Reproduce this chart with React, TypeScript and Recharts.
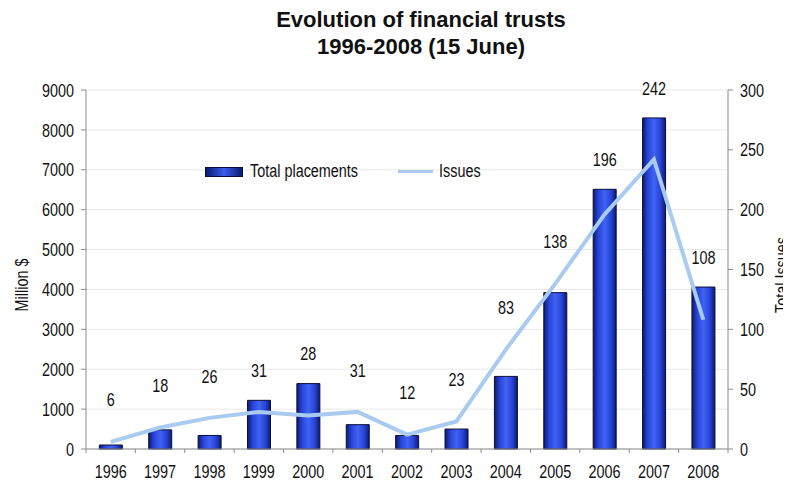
import {
  ComposedChart,
  Bar,
  Line,
  XAxis,
  YAxis,
  CartesianGrid,
  Legend,
  LabelList,
} from "recharts";

const years = ["1996", "1997", "1998", "1999", "2000", "2001", "2002", "2003", "2004", "2005", "2006", "2007", "2008"];
const placements = [100, 480, 340, 1220, 1640, 610, 340, 500, 1820, 3920, 6510, 8300, 4060];
const issues = [6, 18, 26, 31, 28, 31, 12, 23, 83, 138, 196, 242, 108];
const leftTicks = [0, 1000, 2000, 3000, 4000, 5000, 6000, 7000, 8000, 9000];
const rightTicks = [0, 50, 100, 150, 200, 250, 300];

const data = years.map((year, i) => ({ year, placements: placements[i], issues: issues[i] }));

const FONT = "'Liberation Sans', Arial, sans-serif";
const SQUEEZE = 0.8; // fake a condensed face
const AXIS = "#8c8c8c";
const LINE = "#a9cbef";
const BAND = 642 / years.length;

const Narrow = ({ x, y, anchor = "middle", children }: any) => (
  <text
    transform={`translate(${x},${y}) scale(${SQUEEZE},1)`}
    textAnchor={anchor}
    dominantBaseline="central"
    fontFamily={FONT}
    fontSize={18}
    fill="#111"
  >
    {children}
  </text>
);

// label sits above whichever is higher: the issues point or the bar top
const IssueLabel = (props: any) => {
  const { x, y, width, height, index } = props;
  const d = data[index];
  if (!d) return null;
  const bottom = y + height;
  const plotH = (height * 9000) / d.placements;
  const lineY = bottom - (d.issues / 300) * plotH;
  const ty = Math.min(lineY - 42, y - 30);
  return (
    <Narrow x={x + width / 2} y={ty}>
      {d.issues}
    </Narrow>
  );
};

// year label plus a small tick mark between categories
const YearTick = (props: any) => {
  const { x, y, payload, index } = props;
  return (
    <g>
      <line x1={x - BAND / 2} x2={x - BAND / 2} y1={y - 6} y2={y - 2} stroke={AXIS} />
      {index === years.length - 1 && (
        <line x1={x + BAND / 2} x2={x + BAND / 2} y1={y - 6} y2={y - 2} stroke={AXIS} />
      )}
      <Narrow x={x} y={y + 16}>
        {payload.value}
      </Narrow>
    </g>
  );
};

const LeftTick = (props: any) => (
  <Narrow x={props.x} y={props.y} anchor="end">
    {props.payload.value}
  </Narrow>
);

const RightTick = (props: any) => (
  <Narrow x={props.x} y={props.y} anchor="start">
    {props.payload.value}
  </Narrow>
);

const narrowHtml = { display: "inline-block", transform: `scaleX(${SQUEEZE})`, transformOrigin: "left center" };

const LegendBox = () => (
  <div style={{ display: "flex", alignItems: "center", fontFamily: FONT, fontSize: 18, color: "#111", whiteSpace: "nowrap" }}>
    <span
      style={{
        width: 38,
        height: 10,
        background: "linear-gradient(90deg,#0b1a6e,#3a5cf0 50%,#0b1a6e)",
        border: "1px solid #0a0f3a",
        boxSizing: "border-box",
        marginRight: 7,
      }}
    />
    <span style={{ ...narrowHtml, width: 110 }}>Total placements</span>
    <span style={{ width: 35, height: 3, background: LINE, marginLeft: 38, marginRight: 6 }} />
    <span style={narrowHtml}>Issues</span>
  </div>
);

const sideTitle = (left: number, top: number) => ({
  position: "absolute" as const,
  left,
  top,
  transform: `translate(-50%,-50%) rotate(-90deg) scaleX(${SQUEEZE})`,
  fontFamily: FONT,
  fontSize: 18,
  lineHeight: "18px",
  whiteSpace: "nowrap" as const,
  color: "#111",
});

export default function App() {
  return (
    <div style={{ position: "relative", width: 775, height: 477 }}>
      <div
        style={{
          position: "absolute",
          top: -2,
          left: 213,
          width: 400,
          textAlign: "center",
          fontFamily: FONT,
          fontWeight: 700,
          fontSize: 22,
          lineHeight: "27px",
          color: "#111",
        }}
      >
        Evolution of financial trusts
        <br />
        1996-2008 (15 June)
      </div>
      <div style={sideTitle(14, 277)}>Million $</div>
      <div style={sideTitle(774, 267)}>Total Issues</div>
      <ComposedChart
        width={775}
        height={477}
        data={data}
        margin={{ top: 82, right: 15, bottom: 10, left: 5 }}
        barCategoryGap="27%"
      >
        <defs>
          <linearGradient id="barFill" x1="0" y1="0" x2="1" y2="0">
            <stop offset="0%" stopColor="#0b1a6e" />
            <stop offset="22%" stopColor="#2843d6" />
            <stop offset="50%" stopColor="#3f63f5" />
            <stop offset="78%" stopColor="#2843d6" />
            <stop offset="100%" stopColor="#0b1a6e" />
          </linearGradient>
        </defs>
        <CartesianGrid vertical={false} stroke="#e9e9e9" yAxisId="left" />
        <XAxis
          dataKey="year"
          height={26}
          interval={0}
          tickLine={false}
          axisLine={{ stroke: AXIS }}
          tickMargin={0}
          tick={<YearTick />}
        />
        <YAxis
          yAxisId="left"
          width={73}
          domain={[0, 9000]}
          ticks={leftTicks}
          interval={0}
          tickSize={5}
          tickMargin={7}
          axisLine={{ stroke: AXIS }}
          tickLine={{ stroke: AXIS }}
          tick={<LeftTick />}
        />
        <YAxis
          yAxisId="right"
          orientation="right"
          width={40}
          domain={[0, 300]}
          ticks={rightTicks}
          interval={0}
          tickSize={5}
          tickMargin={7}
          axisLine={{ stroke: AXIS }}
          tickLine={{ stroke: AXIS }}
          tick={<RightTick />}
        />
        <Legend
          layout="vertical"
          align="center"
          verticalAlign="middle"
          content={<LegendBox />}
          wrapperStyle={{ top: 153, left: 197, width: "auto" }}
        />
        <Bar
          yAxisId="left"
          dataKey="placements"
          name="Total placements"
          fill="url(#barFill)"
          stroke="#0a0f3a"
          strokeWidth={1}
          isAnimationActive={false}
        >
          <LabelList dataKey="issues" content={<IssueLabel />} />
        </Bar>
        <Line
          yAxisId="right"
          dataKey="issues"
          name="Issues"
          type="linear"
          stroke={LINE}
          strokeWidth={4}
          dot={false}
          activeDot={false}
          isAnimationActive={false}
        />
      </ComposedChart>
    </div>
  );
}
